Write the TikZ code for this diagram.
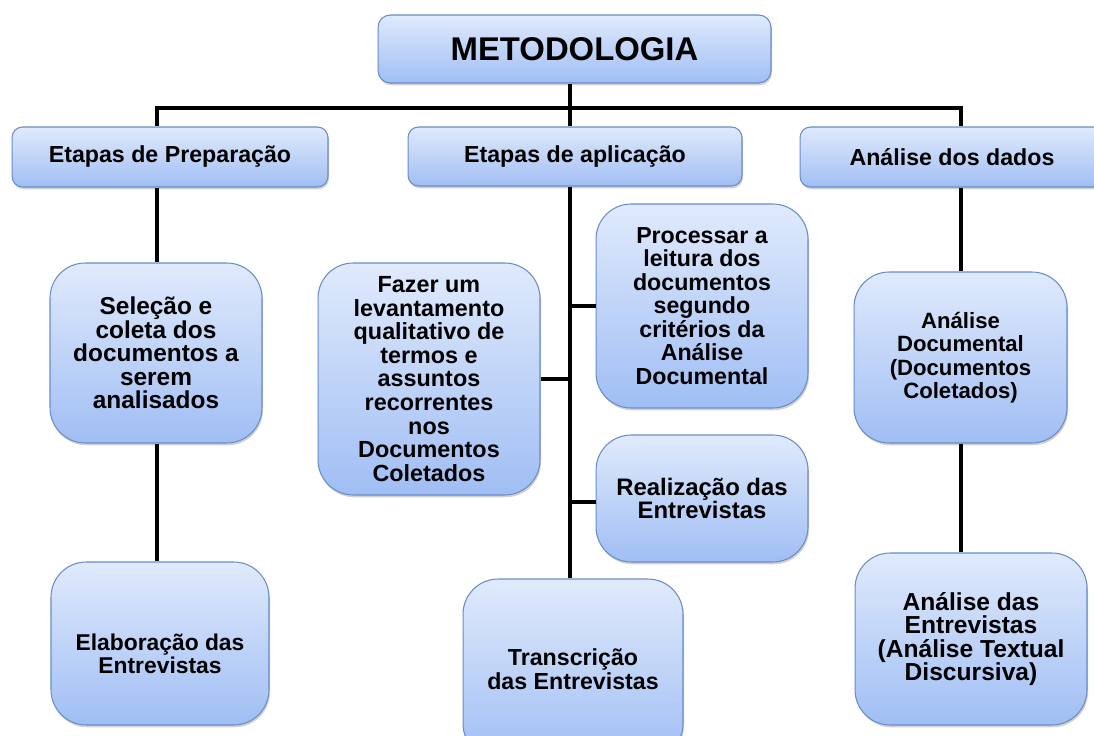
\documentclass[tikz,border=0pt]{standalone}
\usepackage{fontspec}
\setmainfont{Liberation Sans}
\usetikzlibrary{shadows}
\definecolor{boxtop}{RGB}{224,234,252}
\definecolor{boxbot}{RGB}{160,190,244}
\definecolor{boxline}{RGB}{105,140,200}
\newcommand{\fsz}[1]{\fontsize{#1}{13.4pt}\selectfont\bfseries}
\begin{document}
\begin{tikzpicture}[x=0.02cm,y=-0.02cm,
  box/.style={rectangle, draw=boxline, line width=0.6pt, top color=boxtop, bottom color=boxbot,
    align=center, inner sep=0pt,
    drop shadow={shadow xshift=0.6pt, shadow yshift=-1.3pt, opacity=0.3, fill=black!60}},
  hdr/.style={box, rounded corners=6pt, font=\fsz{13.2pt}, minimum height=1.2cm},
  body/.style={box, rounded corners=20pt},
  conn/.style={line width=2.1pt, black},
  stub/.style={line width=2.8pt, black}]
\useasboundingbox (0,0) rectangle (1094,736);
\clip (0,0) rectangle (1094,736);

% top
\node[box, rounded corners=7pt, font=\fontsize{18.7pt}{22pt}\selectfont\bfseries,
  minimum width=7.86cm, minimum height=1.36cm] (meto) at (574.5,49) {METODOLOGIA};

% headers
\node[hdr, minimum width=6.32cm] (prep) at (170,157) {Etapas de Preparação};
\node[hdr, minimum width=6.68cm, minimum height=1.18cm] (apl) at (575,156.5) {Etapas de aplicação};
\node[hdr, minimum width=6.08cm] (dados) at (952,157) {Análise dos dados};

% left column
\node[body, font=\fsz{13.9pt}, minimum width=4.24cm, minimum height=3.6cm] (sel) at (156,353)
  {Seleção e\\coleta dos\\documentos a\\serem\\analisados};
\node[body, font=\fsz{13pt}, minimum width=4.36cm, minimum height=3.26cm] (ela) at (160,643.5)
  {\rule{0pt}{21pt}Elaboração das\\Entrevistas};

% center column
\node[body, font=\fsz{13.3pt}, minimum width=4.44cm, minimum height=4.64cm] (fazer) at (429,379)
  {Fazer um\\levantamento\\qualitativo de\\termos e\\assuntos\\recorrentes\\nos\\Documentos\\Coletados};
\node[body, font=\fsz{13.2pt}, minimum width=4.24cm, minimum height=4.08cm] (proc) at (702,306)
  {Processar a\\leitura dos\\documentos\\segundo\\critérios da\\Análise\\Documental};
\node[body, font=\fsz{13.6pt}, minimum width=4.24cm, minimum height=2.54cm] (real) at (702,498.5)
  {Realização das\\Entrevistas};
\node[body, font=\fsz{13.2pt}, minimum width=4.4cm, minimum height=3.6cm] (trans) at (573,669)
  {Transcrição\\das Entrevistas};

% right column
\node[body, font=\fsz{12.6pt}, minimum width=4.26cm, minimum height=3.42cm] (adoc) at (960.5,357.5)
  {Análise\\Documental\\(Documentos\\Coletados)};
\node[body, font=\fsz{14pt}, minimum width=4.64cm, minimum height=3.44cm] (aent) at (971,639)
  {Análise das\\Entrevistas\\(Análise Textual\\Discursiva)};

% connector coordinates
\coordinate (hl) at (157,108);
\coordinate (hc) at (570,108);
\coordinate (hr) at (961,108);

\draw[conn] ([xshift=-1.05pt]hl) -- ([xshift=1.05pt]hr);
\draw[conn] (hl) -- (hl |- prep.north);
\draw[conn] (hc |- meto.south) -- (hc |- apl.north);
\draw[conn] (hr) -- (hr |- dados.north);

\draw[conn] (hl |- prep.south) -- (hl |- sel.north);
\draw[conn] (hl |- sel.south) -- (hl |- ela.north);

\draw[conn] (hc |- apl.south) -- (hc |- trans.north);
\draw[stub] (fazer.east) -- (fazer.east -| hc);
\draw[stub] (proc.west) -- (proc.west -| hc);
\draw[stub] ([yshift=-2pt]real.west) -- ([yshift=-2pt]real.west -| hc);

\draw[conn] (hr |- dados.south) -- (hr |- adoc.north);
\draw[conn] (hr |- adoc.south) -- (hr |- aent.north);
\end{tikzpicture}
\end{document}
